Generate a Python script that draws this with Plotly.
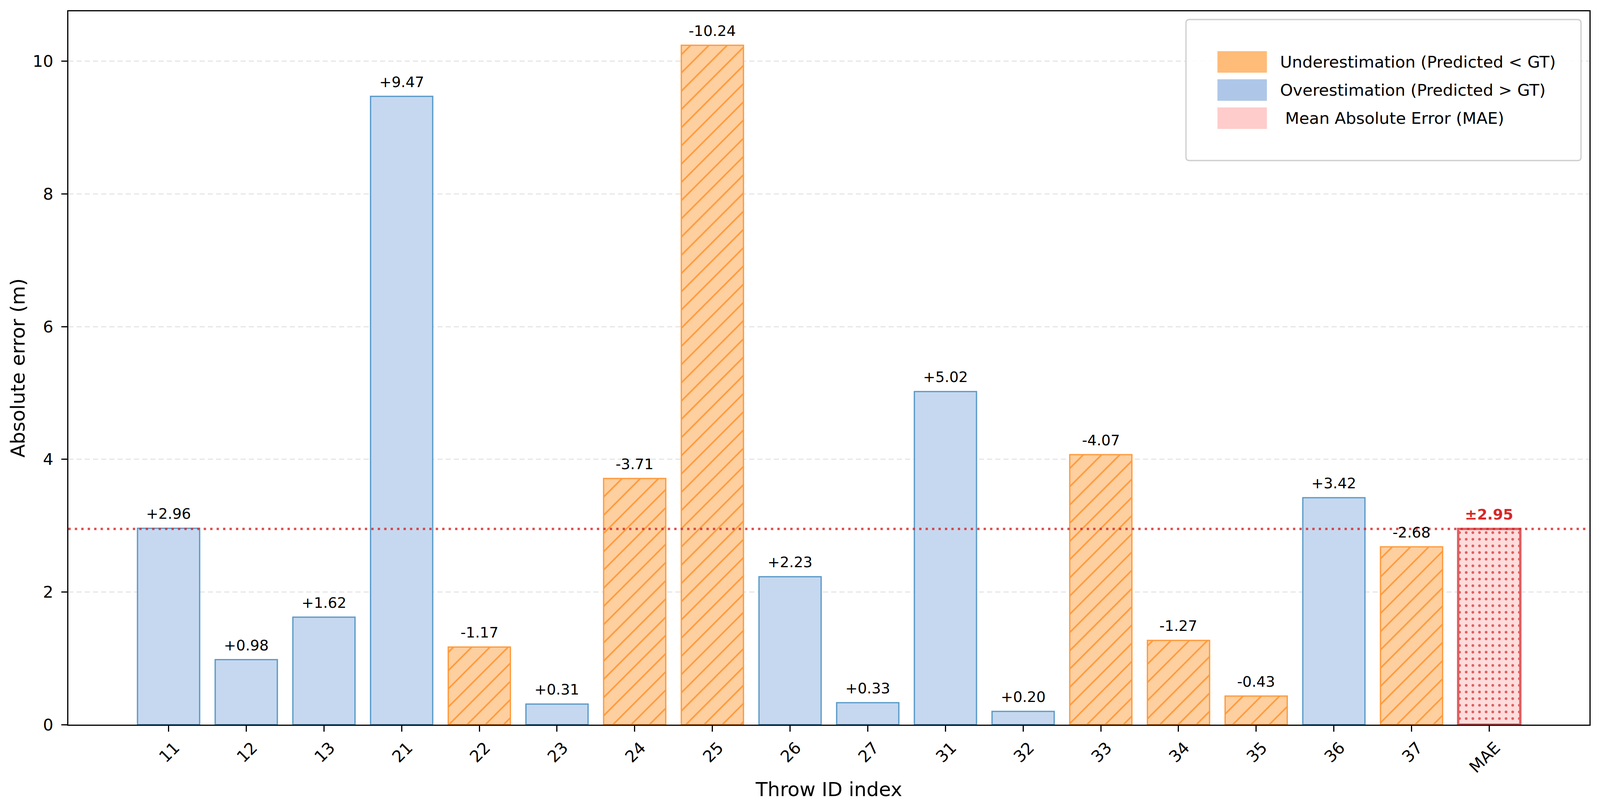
import plotly.graph_objects as go

# ---------------- data ----------------
throw_ids = ["11", "12", "13", "21", "22", "23", "24", "25", "26", "27",
             "31", "32", "33", "34", "35", "36", "37"]
signed_errors = [2.96, 0.98, 1.62, 9.47, -1.17, 0.31, -3.71, -10.24, 2.23, 0.33,
                 5.02, 0.20, -4.07, -1.27, -0.43, 3.42, -2.68]
mae_label = "MAE"
mae_value = round(sum(abs(v) for v in signed_errors) / len(signed_errors), 2)

legend_labels = ["Underestimation (Predicted < GT)",
                 "Overestimation (Predicted > GT)",
                 "Mean Absolute Error (MAE)"]

# ---------------- styles ----------------
W, H = 4172, 2071
PL, PR, PT, PB = 178, 4144, 29, 1855          # plot area in pixels (reference frame)
FONT = "DejaVu Sans"

over_fill, over_edge = "#c6d8ef", "#5b9bc9"
under_fill, under_edge = "#fecf9f", "#ff9a3c"
mae_fill, mae_edge = "#ffdcdc", "#e05f60"


def px_x(p):
    return (p - PL) / (PR - PL)


def px_y(p):
    return (PB - p) / (PB - PT)


categories = throw_ids + [mae_label]
over_x = [t for t, v in zip(throw_ids, signed_errors) if v > 0]
over_y = [abs(v) for v in signed_errors if v > 0]
under_x = [t for t, v in zip(throw_ids, signed_errors) if v < 0]
under_y = [abs(v) for v in signed_errors if v < 0]

fig = go.Figure()

fig.add_trace(go.Bar(
    x=over_x, y=over_y, width=0.8, name=legend_labels[1],
    marker=dict(color=over_fill, line=dict(color=over_edge, width=3.3)),
    showlegend=False,
))
fig.add_trace(go.Bar(
    x=under_x, y=under_y, width=0.8, name=legend_labels[0],
    marker=dict(color=under_fill, line=dict(color=under_edge, width=3.3),
                pattern=dict(shape="/", fgcolor=under_edge, bgcolor=under_fill,
                             size=33, solidity=0.12, fillmode="replace")),
    showlegend=False,
))
fig.add_trace(go.Bar(
    x=[mae_label], y=[mae_value], width=0.8, name=legend_labels[2],
    marker=dict(color=mae_fill, line=dict(color=mae_edge, width=6),
                pattern=dict(shape=".", fgcolor=mae_edge, bgcolor=mae_fill,
                             size=17, solidity=0.13, fillmode="replace")),
    showlegend=False,
))

annotations = []
for i, v in enumerate(signed_errors):
    annotations.append(dict(
        x=i, y=abs(v), xref="x", yref="y", text=f"{v:+.2f}", showarrow=False,
        yanchor="bottom", yshift=13, font=dict(family=FONT, size=37.5, color="black")))
annotations.append(dict(
    x=len(throw_ids), y=mae_value, xref="x", yref="y",
    text=f"<b>\u00b1{mae_value:.2f}</b>",
    showarrow=False, yanchor="bottom", yshift=13,
    font=dict(family=FONT, size=37.5, color="#d62728")))

shapes = []
# MAE reference line
shapes.append(dict(type="line", xref="paper", yref="y", x0=0, x1=1,
                   y0=mae_value, y1=mae_value,
                   line=dict(color="rgba(214,39,40,0.8)", width=6, dash="6px,10.5px"),
                   layer="above"))

# manual legend (matplotlib-style)
bx0, bx1, by0, by1 = 3092, 4122, 50, 411
r = 9
rx = r / (PR - PL)
ry = r / (PB - PT)
X0, X1, Y0, Y1 = px_x(bx0), px_x(bx1), px_y(by1), px_y(by0)
path = (f"M{X0 + rx},{Y0} L{X1 - rx},{Y0} Q{X1},{Y0} {X1},{Y0 + ry} "
        f"L{X1},{Y1 - ry} Q{X1},{Y1} {X1 - rx},{Y1} L{X0 + rx},{Y1} "
        f"Q{X0},{Y1} {X0},{Y1 - ry} L{X0},{Y0 + ry} Q{X0},{Y0} {X0 + rx},{Y0} Z")
shapes.append(dict(type="path", xref="paper", yref="paper", path=path,
                   fillcolor="rgba(255,255,255,0.85)",
                   line=dict(color="#d0d0d0", width=3.3), layer="above"))

legend_patch_colors = ["#ffbb78", "#aec7e8", "#ffcccc"]
rows = [(131, 186), (203, 258), (275, 330)]
text_x = [3335, 3335, 3349]
for (ya, yb), col, lab, tx in zip(rows, legend_patch_colors, legend_labels, text_x):
    shapes.append(dict(type="rect", xref="paper", yref="paper",
                       x0=px_x(3174), x1=px_x(3303), y0=px_y(yb), y1=px_y(ya),
                       fillcolor=col, line=dict(width=0), layer="above"))
    annotations.append(dict(
        x=px_x(tx), y=px_y((ya + yb) / 2), xref="paper", yref="paper", text=lab,
        showarrow=False, xanchor="left", yanchor="middle",
        font=dict(family=FONT, size=41.7, color="black")))

fig.update_layout(
    width=W, height=H,
    margin=dict(l=PL, r=W - PR, t=PT, b=H - PB, pad=0, autoexpand=False),
    paper_bgcolor="white", plot_bgcolor="white",
    barmode="overlay",
    font=dict(family=FONT, size=41.7, color="black"),
    annotations=annotations, shapes=shapes,
    showlegend=False,
)

fig.update_xaxes(
    type="category", categoryorder="array", categoryarray=categories,
    range=[-1.29, len(categories) - 1 + 1.29],
    showline=True, mirror=True, linecolor="black", linewidth=3.3,
    ticks="outside", ticklen=15, tickwidth=3.3, tickcolor="black",
    tickangle=-45, ticklabelshift=16,
    tickfont=dict(family=FONT, size=41.7, color="black"),
    showgrid=False, zeroline=False, automargin=False,
    title=dict(text="Throw ID index", font=dict(family=FONT, size=50, color="black"),
               standoff=16),
)
fig.update_yaxes(
    range=[0, 10.752], tickvals=[0, 2, 4, 6, 8, 10],
    showline=True, mirror=True, linecolor="black", linewidth=3.3,
    ticks="outside", ticklen=15, tickwidth=3.3, tickcolor="black",
    ticklabelstandoff=12, automargin=False,
    tickfont=dict(family=FONT, size=41.7, color="black"),
    showgrid=True, gridcolor="#e6e6e6", gridwidth=2.7, griddash="13px,8px",
    zeroline=False,
    title=dict(text="Absolute error (m)", font=dict(family=FONT, size=50, color="black"),
               standoff=4),
)

# fit the figure to the actual browser viewport, keeping horizontal proportions
post = (
    "document.documentElement.style.margin='0';"
    "document.body.style.margin='0';"
    "document.body.style.overflow='hidden';"
    "var gd=document.getElementById('{plot_id}');"
    "var iw=window.innerWidth, ih=window.innerHeight, s=iw/" + str(W) + ";"
    "Plotly.relayout(gd,{width:iw,height:ih,"
    "'margin.l':Math.round(" + str(PL) + "*s),"
    "'margin.r':Math.round(" + str(W - PR) + "*s),"
    "'margin.t':Math.round(" + str(PT) + "*ih/" + str(H) + "),"
    "'margin.b':Math.round(" + str(H - PB) + "*ih/" + str(H) + ")});"
)

fig.write_html(
    "out.html",
    config={"displayModeBar": False},
    post_script=post,
)
